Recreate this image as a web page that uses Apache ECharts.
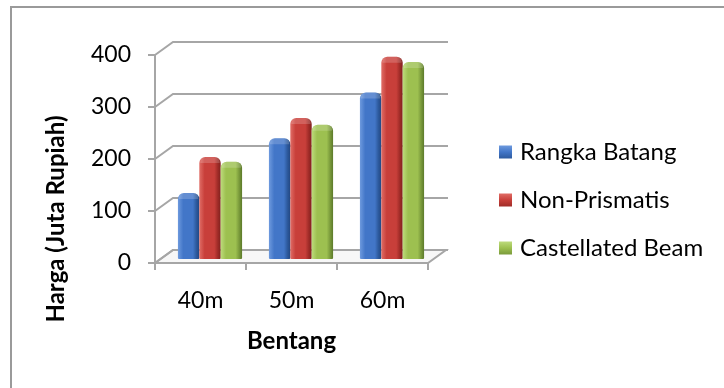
<!DOCTYPE html>
<html>
<head>
<meta charset="utf-8">
<script src="https://cdn.jsdelivr.net/npm/echarts/dist/echarts.min.js"></script>
<style>
  html, body { margin: 0; padding: 0; background: #fff; }
  #chart { width: 724px; height: 388px; }
</style>
</head>
<body>
<div id="chart"></div>
<script>
// Construction cost per span length (million rupiah)
const categories = ['40m', '50m', '60m'];
const seriesNames = ['Rangka Batang', 'Non-Prismatis', 'Castellated Beam'];
const rangkaBatang = [127, 232, 320];
const nonPrismatis = [196, 271, 389];
const castellatedBeam = [187, 258, 379];
const yTicks = [0, 100, 200, 300, 400];
const yTitle = 'Harga (Juta Rupiah)';
const xTitle = 'Bentang';

const seriesValues = [rangkaBatang, nonPrismatis, castellatedBeam];

// pseudo-3D offsets: back wall and the column plane, relative to the front axes
const DEPTH = [18, -13];
const BAR_SHIFT = [9.5, -4];
const FRAME = '#a6a6a6';
const FONT = 'Lato';

const palette = [
  { light: '#6e9ade', mid: '#4276c8', dark: '#2d5a9e', side: '#234782' },
  { light: '#e06d66', mid: '#c83f3a', dark: '#a02c28', side: '#80211e' },
  { light: '#bddb7c', mid: '#9dc050', dark: '#7a9a3b', side: '#5c7a2a' }
];

function legendFill(c) {
  return new echarts.graphic.LinearGradient(0, 0, 0, 1, [
    { offset: 0, color: c.light },
    { offset: 0.5, color: c.mid },
    { offset: 1, color: c.dark }
  ]);
}

function barRenderer(si) {
  const c = palette[si];
  return function (params, api) {
    const cat = api.value(0);
    const val = api.value(1);
    const base = api.coord([cat, 0]);
    const top = api.coord([cat, val]);
    const band = api.size([1, 0])[0];
    const slot = band * 0.235;
    const x = base[0] + BAR_SHIFT[0] - 1.5 * slot + si * slot;
    const y0 = base[1] + BAR_SHIFT[1];
    const y1 = top[1] + BAR_SHIFT[1];
    return {
      type: 'group',
      children: [
        {
          type: 'rect',
          shape: { x: x, y: y1, width: slot, height: y0 - y1, r: [6, 6, 1, 1] },
          style: {
            fill: new echarts.graphic.LinearGradient(0, 0, 1, 0, [
              { offset: 0, color: c.light },
              { offset: 0.25, color: c.mid },
              { offset: 0.7, color: c.mid },
              { offset: 0.86, color: c.dark },
              { offset: 1, color: c.side }
            ])
          }
        },
        {
          type: 'rect',
          shape: { x: x + 1, y: y1, width: slot - 2, height: 6, r: [5, 5, 0, 0] },
          style: { fill: 'rgba(255,255,255,0.18)' }
        }
      ]
    };
  };
}

// back wall gridlines, left-wall diagonals and the floor
function frameRenderer(params, api) {
  const cs = params.coordSys;
  const v = api.value(1);
  const y = api.coord([0, v])[1];
  const x = cs.x;
  const bx = x + DEPTH[0];
  const by = y + DEPTH[1];
  const right = bx + cs.width + 2;
  const children = [];
  if (v === 0) {
    children.push({
      type: 'polygon',
      shape: { points: [[x, y], [x + cs.width, y], [x + cs.width + DEPTH[0], by], [bx, by]] },
      style: { fill: '#f7f7f7', stroke: FRAME, lineWidth: 2 }
    });
  }
  children.push({
    type: 'polyline',
    shape: { points: [[x, y], [bx, by], [right, by]] },
    style: { stroke: FRAME, lineWidth: 2, fill: null }
  });
  return { type: 'group', children: children };
}

const series = [{
  type: 'custom',
  name: 'frame',
  z: 1,
  silent: true,
  coordinateSystem: 'cartesian2d',
  data: yTicks.map(v => [0, v]),
  encode: { x: 0, y: 1 },
  renderItem: frameRenderer
}];

seriesNames.forEach((name, si) => {
  series.push({
    type: 'custom',
    name: name,
    z: 2,
    coordinateSystem: 'cartesian2d',
    itemStyle: { color: legendFill(palette[si]) },
    data: categories.map((c, i) => [i, seriesValues[si][i]]),
    encode: { x: 0, y: 1 },
    renderItem: barRenderer(si)
  });
});

const chart = echarts.init(document.getElementById('chart'), null, { renderer: 'canvas' });
chart.setOption({
  animation: false,
  backgroundColor: '#fff',
  textStyle: { fontFamily: FONT },
  graphic: [
    {
      type: 'rect',
      z: 0,
      shape: { x: 11, y: 7, width: 760, height: 420 },
      style: { fill: null, stroke: '#9a9a9a', lineWidth: 2 }
    },
    {
      type: 'text',
      x: 56,
      y: 219,
      rotation: Math.PI / 2,
      style: {
        text: yTitle,
        fontFamily: FONT,
        fontSize: 24,
        fontWeight: 'bold',
        fill: '#000',
        align: 'center',
        verticalAlign: 'middle'
      }
    }
  ],
  grid: { left: 155, top: 55, width: 273, height: 208 },
  xAxis: {
    type: 'category',
    data: categories,
    z: 5,
    axisLine: { show: true, lineStyle: { color: FRAME, width: 2 } },
    axisTick: { show: true, alignWithLabel: false, length: 7, lineStyle: { color: FRAME, width: 2 } },
    axisLabel: { fontSize: 23, color: '#000', margin: 26, fontFamily: FONT },
    name: xTitle,
    nameLocation: 'middle',
    nameGap: 66,
    nameTextStyle: { fontSize: 24, fontWeight: 'bold', color: '#000', fontFamily: FONT },
    splitLine: { show: false }
  },
  yAxis: {
    type: 'value',
    min: 0,
    max: 400,
    interval: 100,
    z: 5,
    axisLine: { show: true, lineStyle: { color: FRAME, width: 2 } },
    axisTick: { show: true, length: 7, lineStyle: { color: FRAME, width: 2 } },
    axisLabel: { fontSize: 23, color: '#000', margin: 24, fontFamily: FONT },
    splitLine: { show: false }
  },
  legend: {
    data: seriesNames,
    orient: 'vertical',
    left: 499,
    top: 138,
    padding: 0,
    itemWidth: 13,
    itemHeight: 13,
    itemGap: 20,
    icon: 'rect',
    textStyle: { fontSize: 24, lineHeight: 28, color: '#000', fontFamily: FONT, padding: [0, 0, 0, 3] }
  },
  series: series
});
</script>
</body>
</html>
